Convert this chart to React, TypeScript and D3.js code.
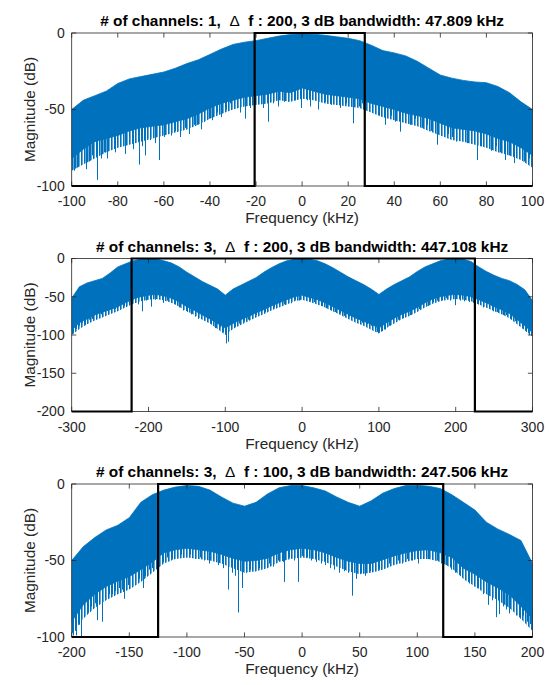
import React from 'react'
import * as d3 from 'd3'

const BLUE = '#0072BD'
const FONT = '"Liberation Sans", Arial, Helvetica, sans-serif'

// ---- panel titles
const channels = [1, 3, 3]
const deltaF = [200, 200, 100]
const bandwidth = ['47.809', '447.108', '247.506']

// ---- panel 1 (1 channel, span +-100 kHz)
const freq1 = [-100, -95, -90, -85, -80, -75, -70, -65, -60, -55, -50, -45, -40, -35, -30, -25, -20, -15, -10, -5, 0, 5, 10, 15, 20, 25, 30, 35, 40, 45, 50, 55, 60, 65, 70, 75, 80, 85, 90, 95, 100]
const upper1 = [-50, -44, -41, -38, -33, -30, -28.5, -27, -25.5, -23, -20, -17.5, -14, -10.5, -7.5, -6, -5, -3.5, -2, -1, -0.5, -0.8, -1.5, -2.5, -3.5, -5, -8, -11.5, -13, -15, -18.5, -23, -27.5, -29.5, -31, -32, -32.5, -35, -39, -45, -50]
const lower1 = [-82, -76, -71, -69, -67, -64, -62, -61, -60, -58, -56, -53, -49, -46, -44, -42, -41, -40, -38, -39, -36, -38, -40, -41, -42, -43, -46, -48, -50, -52.5, -54, -56, -59, -62, -63, -64, -66, -69, -71, -75, -80]
const fringe1 = [-90, -86, -82, -78, -75, -73, -71, -69, -67, -65, -63, -60, -56, -53, -50, -48, -47, -46, -44, -45, -43, -44, -46, -47, -48, -49, -52, -55, -57, -59, -61, -64, -67, -70, -71, -73, -75, -78, -80, -83, -88]
const spikes1: [number, number][] = [
  [-99, -90], [-97.5, -88], [-96, -85], [-94, -89], [-92.5, -84], [-91, -80], [-89, -96], [-87.5, -82], [-86, -78], [-84.5, -82],
  [-83, -76], [-81, -78], [-79, -74], [-77, -79], [-75, -72], [-73.5, -76], [-71, -86], [-69.5, -74], [-68, -80], [-66, -70],
  [-64, -72], [-62, -83], [-60, -68], [-58, -66], [-57, -67], [-55, -64], [-53, -68], [-51, -62], [-49, -66], [-47, -60],
  [-45.5, -60], [-44, -63], [-42.5, -58], [-40.5, -56], [-39, -57], [-37, -52], [-35, -55], [-33, -50], [-31.5, -46], [-29.5, -48],
  [-27, -52], [-25, -56], [-22.5, -49], [-21, -50], [-17, -49], [-15, -58], [-12.5, -46], [-10.5, -48], [-8, -45], [-6, -45],
  [-3, -44], [-0.5, -49], [2, -44], [3.5, -48], [5.5, -44], [7, -50], [10, -45], [12.5, -47], [14.5, -44], [16.5, -49],
  [19, -46], [22.3, -59], [24.5, -48], [26, -46], [29, -48], [31.5, -50], [33.5, -54], [36, -60], [38.5, -54], [40.5, -58],
  [42.6, -64.5], [44.5, -57], [47, -60], [49, -56], [51.9, -62], [54, -60], [56, -64], [58.4, -73], [60.5, -66], [63.4, -66],
  [65, -68], [67, -71], [69.5, -68], [71.5, -72], [73.5, -70], [75.7, -83], [77.5, -74], [80, -73], [82.2, -77], [84, -74],
  [86, -78], [88, -83], [90, -80], [92, -85], [94, -80], [96.5, -84], [98.5, -82],
]
const maskF1 = [-100, -20.6, -20.6, 27.2, 27.2, 100]
const maskDb1 = [-100, -100, 0, 0, -100, -100]

// ---- panel 2 (3 channels, 200 kHz spacing)
const freq2 = [-300, -290, -280, -270, -260, -250, -240, -230, -220, -210, -200, -190, -180, -170, -160, -150, -140, -130, -120, -110, -100, -90, -80, -70, -60, -50, -40, -30, -20, -10, 0, 10, 20, 30, 40, 50, 60, 70, 80, 90, 100, 110, 120, 130, 140, 150, 160, 170, 180, 190, 200, 210, 220, 230, 240, 250, 260, 270, 280, 290, 300]
const upper2 = [-52, -37, -32, -29, -26, -19, -11, -7, -3, -1, -0.5, -0.8, -3, -6, -11, -18, -24, -30, -35, -40, -48, -40, -35, -30, -25, -18, -12, -7, -3, -1, -0.5, -1, -3, -7, -12, -18, -24, -29, -34, -40, -47, -40, -34, -29, -24, -17, -11, -7, -3, -1, -0.5, -1, -4, -11, -17, -22, -26, -29, -34, -41, -55]
const lower2 = [-94, -84, -79, -74, -70, -67, -63, -58, -53, -50, -48, -47, -49, -52, -57, -63, -68, -74, -79, -85, -91, -85, -80, -76, -71, -67, -62, -58, -54, -50, -48, -51, -54, -58, -63, -68, -73, -78, -82, -86, -91, -84, -78, -73, -69, -64, -58, -53, -50, -48, -47, -48, -50, -54, -58, -63, -67, -72, -80, -88, -97]
const fringe2 = [-100, -92, -86, -81, -77, -73, -69, -64, -59, -56, -54, -53, -55, -58, -63, -69, -74, -80, -85, -92, -100, -92, -87, -82, -77, -73, -68, -64, -60, -56, -54, -57, -60, -64, -69, -74, -79, -84, -88, -93, -98, -91, -85, -79, -75, -70, -64, -59, -56, -54, -53, -54, -56, -60, -64, -69, -73, -78, -86, -94, -102]
const spikes2: [number, number][] = [
  [-298, -98], [-294, -92], [-290, -88], [-286, -84], [-282.7, -87], [-278, -80], [-273, -79], [-268, -76], [-262, -73], [-257, -70],
  [-249, -66], [-244, -66], [-238, -62], [-232, -62], [-226, -58], [-220, -54], [-214, -60], [-208, -69], [-203, -55], [-196.5, -63],
  [-191, -54], [-186, -53], [-181, -58], [-176, -55], [-171, -58], [-166, -60], [-160, -64], [-155, -68], [-150, -70], [-145, -73],
  [-140, -76], [-135, -79], [-128, -80], [-124, -82], [-118, -86], [-113, -91], [-107, -90], [-103, -96], [-99, -111], [-96.5, -109],
  [-92, -92], [-87, -89], [-82, -85], [-76, -82], [-71, -80], [-65, -76], [-60, -74], [-54, -71], [-48, -70], [-42, -66],
  [-36, -64], [-30, -62], [-24, -60], [-19, -57], [-14.5, -58.5], [-9, -54], [-4, -55], [1, -52], [5, -53], [10, -56],
  [15, -57], [21, -60], [26, -62], [31, -65], [37, -68], [43, -70], [49, -72], [55, -75], [61.7, -76], [67, -78],
  [72, -81], [78, -84], [85, -86], [90, -88], [95, -93], [97, -96], [100, -97], [104, -95], [108, -93], [113, -88],
  [119, -84], [125, -80], [131, -78], [134, -74], [140, -74], [146, -70], [152, -66], [158, -64], [164, -62], [170, -57],
  [176, -55], [182, -54], [188, -52], [193, -55], [199.5, -61], [205, -55], [211, -56], [217, -57], [223, -58], [229, -60],
  [235, -64], [240, -64], [244, -66], [248.6, -69], [254, -70], [261.6, -74], [266, -74], [272, -80], [277, -82], [282, -88],
  [287, -92], [292, -96], [296, -100],
]
const maskF2 = [-300, -222, -222, 225, 225, 300]
const maskDb2 = [-200, -200, 0, 0, -200, -200]

// ---- panel 3 (3 channels, 100 kHz spacing)
const freq3 = [-200, -190, -180, -170, -160, -150, -140, -130, -120, -110, -100, -90, -80, -70, -60, -50, -40, -30, -20, -10, 0, 10, 20, 30, 40, 50, 60, 70, 80, 90, 100, 110, 120, 130, 140, 150, 160, 170, 180, 190, 200]
const upper3 = [-50, -41, -35, -30, -27, -22, -12, -7, -4, -2, -1, -1.5, -4, -8.5, -12.5, -14.5, -12, -6.5, -2.5, -1, -1, -2.5, -4.5, -8.5, -12, -14.5, -11, -6, -3, -1, -0.8, -1.5, -3, -7, -12, -17, -25, -29.5, -33, -37, -52]
const lower3 = [-90, -79, -72, -67, -63.5, -60.5, -56, -51, -45, -43, -42, -43, -44, -46, -48.5, -50.5, -50, -48.5, -45, -43, -42, -43, -45, -48, -50.5, -52, -52, -49.5, -47, -45, -43.5, -43, -45, -48, -55, -59, -64, -68, -72.5, -80, -88]
const fringe3 = [-98, -88, -81, -76, -72, -69, -64, -58, -52, -49, -48, -49, -50, -52, -55, -58, -57, -55, -51, -49, -48, -49, -51, -54, -57, -59, -58, -56, -53, -51, -49, -49, -51, -55, -62, -67, -72, -76, -81, -88, -96]
const spikes3: [number, number][] = [
  [-199, -99], [-197.5, -96], [-196.4, -99], [-194, -92], [-191.6, -100], [-189, -86], [-186, -84], [-183, -80], [-180, -78], [-178.4, -89],
  [-176, -76], [-174, -90], [-171, -74], [-168, -72], [-165, -72], [-162, -70], [-159, -68], [-156, -69], [-154.2, -75], [-151, -66],
  [-148, -65], [-145, -63], [-142, -62], [-138.3, -68], [-136, -60], [-133, -56], [-130, -55], [-127, -52], [-124, -50], [-121, -51],
  [-117, -48], [-113, -49], [-109, -47], [-105, -46], [-101, -48], [-97, -46], [-93, -49], [-89, -48], [-85, -50], [-81.1, -52],
  [-77, -50], [-73, -53], [-69, -55], [-64.5, -69], [-61, -58], [-58, -60], [-55.5, -84], [-52.5, -68], [-49, -58], [-45, -56],
  [-41, -57], [-37, -55], [-33, -54], [-29, -52], [-25, -54], [-21, -50], [-17, -51], [-15.4, -64], [-11, -48], [-7, -50],
  [-3.9, -64], [0, -47], [4, -48], [8, -50], [12, -51], [16, -52], [20, -53], [24, -55], [28, -56], [32, -58],
  [36, -57], [40, -58], [43.7, -73], [47, -62], [51, -58], [55, -60], [59, -57], [63, -55], [67, -56], [71, -54],
  [75, -52], [79, -51], [83, -50], [87, -52], [91, -49], [95, -50], [100.9, -52], [105, -48], [109, -49], [113, -48],
  [117, -50], [121, -52], [125, -53], [129, -56], [133, -58], [137, -60], [141, -63], [145, -65], [149, -67], [153, -68],
  [157, -72], [161.7, -79], [165, -76], [168.7, -87], [171, -85], [174, -80], [177, -82], [180, -84.6], [183, -82], [186, -86],
  [189, -88], [192, -86], [195, -90], [198, -91.5], [199.5, -97],
]
const maskF3 = [-200, -125, -125, 122.5, 122.5, 200]
const maskDb3 = [-100, -100, 0, 0, -100, -100]

// ---- axes ticks
const xTicks1 = [-100, -80, -60, -40, -20, 0, 20, 40, 60, 80, 100]
const yTicks1 = [-100, -50, 0]
const xTicks2 = [-300, -200, -100, 0, 100, 200, 300]
const yTicks2 = [-200, -150, -100, -50, 0]
const xTicks3 = [-200, -150, -100, -50, 0, 50, 100, 150, 200]
const yTicks3 = [-100, -50, 0]

const W = 549
const H = 685
const LEFT = 71.7
const RIGHT = 532.5
const PH = 153
const TOPS = [33, 258.5, 484]
const TICK = 4.6

function Panel(props) {
  const { idx, top, freq, upper, lower, fringe, spikes, maskF, maskDb, xTicks, yTicks } = props
  const bottom = top + PH
  const x = d3.scaleLinear().domain([xTicks[0], xTicks[xTicks.length - 1]]).range([LEFT, RIGHT])
  const y = d3.scaleLinear().domain([yTicks[0], 0]).range([bottom, top])
  // floor of the dense band, where each downward spike starts
  const floor = d3.scaleLinear().domain(freq).range(lower)

  const band = d3.area<number>()
    .x((d, i) => x(freq[i]))
    .y0((d, i) => y(lower[i]))
    .y1((d) => y(d))

  const fringeArea = d3.area<number>()
    .x((d, i) => x(freq[i]))
    .y0((d) => y(d))
    .y1((d, i) => y(lower[i]) - 1)

  const mask = d3.line<number>()
    .x((d) => x(d))
    .y((d, i) => y(maskDb[i]))

  const clipId = 'clip' + idx
  const cx = (LEFT + RIGHT) / 2
  const px = (v) => Math.round(v) + 0.5

  return (
    <g>
      <defs>
        <clipPath id={clipId}>
          <rect x={LEFT} y={top} width={RIGHT - LEFT} height={PH} />
        </clipPath>
      </defs>
      <rect x={LEFT} y={top} width={RIGHT - LEFT} height={PH} fill="#fff" />
      <g clipPath={`url(#${clipId})`}>
        <path d={fringeArea(fringe)} fill="url(#comb)" />
        <path d={band(upper)} fill={BLUE} stroke={BLUE} strokeWidth={0.8} />
        {spikes.map(([f, db], i) => (
          <line key={i} x1={px(x(f))} x2={px(x(f))} y1={y(floor(f) + 4)} y2={y(db)} stroke={BLUE} strokeWidth={1} />
        ))}
      </g>
      {/* box */}
      <rect x={LEFT} y={top} width={RIGHT - LEFT} height={PH} fill="none" stroke="#262626" strokeWidth={0.8} />
      {xTicks.map((t) => (
        <g key={'x' + t}>
          <line x1={x(t)} x2={x(t)} y1={bottom} y2={bottom - TICK} stroke="#262626" strokeWidth={0.8} />
          <line x1={x(t)} x2={x(t)} y1={top} y2={top + TICK} stroke="#262626" strokeWidth={0.8} />
          <text x={x(t)} y={bottom + 20} textAnchor="middle" fontSize={14} fill="#262626">{t}</text>
        </g>
      ))}
      {yTicks.map((t) => (
        <g key={'y' + t}>
          <line x1={LEFT} x2={LEFT + TICK} y1={y(t)} y2={y(t)} stroke="#262626" strokeWidth={0.8} />
          <line x1={RIGHT} x2={RIGHT - TICK} y1={y(t)} y2={y(t)} stroke="#262626" strokeWidth={0.8} />
          <text x={LEFT - 7} y={y(t)} dy="0.35em" textAnchor="end" fontSize={14} fill="#262626">{t}</text>
        </g>
      ))}
      <path d={mask(maskF)} fill="none" stroke="#000" strokeWidth={2.2} strokeLinejoin="miter" />
      <text x={cx} y={bottom + 37} textAnchor="middle" fontSize={15.4} fill="#262626">Frequency (kHz)</text>
      <text transform={`translate(35,${top + PH / 2}) rotate(-90)`} textAnchor="middle" fontSize={15.4} fill="#262626">Magnitude (dB)</text>
      <text x={cx} y={top - 7} textAnchor="middle" fontSize={15.4} fontWeight="bold" fill="#000" style={{ whiteSpace: 'pre' }}>
        {`# of channels: ${channels[idx]},  `}
        <tspan fontWeight="normal">Δ</tspan>
        {`  f : ${deltaF[idx]}, 3 dB bandwidth: ${bandwidth[idx]} kHz`}
      </text>
    </g>
  )
}

export default function App() {
  return (
    <svg width={W} height={H} style={{ position: 'absolute', left: 0, top: 0, display: 'block', fontFamily: FONT, background: '#fff' }}>
      <defs>
        <pattern id="comb" width={3} height={6} patternUnits="userSpaceOnUse">
          <rect x={0} y={0} width={1.6} height={6} fill={BLUE} />
        </pattern>
      </defs>
      <rect width={W} height={H} fill="#fff" />
      <Panel idx={0} top={TOPS[0]} freq={freq1} upper={upper1} lower={lower1} fringe={fringe1} spikes={spikes1} maskF={maskF1} maskDb={maskDb1} xTicks={xTicks1} yTicks={yTicks1} />
      <Panel idx={1} top={TOPS[1]} freq={freq2} upper={upper2} lower={lower2} fringe={fringe2} spikes={spikes2} maskF={maskF2} maskDb={maskDb2} xTicks={xTicks2} yTicks={yTicks2} />
      <Panel idx={2} top={TOPS[2]} freq={freq3} upper={upper3} lower={lower3} fringe={fringe3} spikes={spikes3} maskF={maskF3} maskDb={maskDb3} xTicks={xTicks3} yTicks={yTicks3} />
    </svg>
  )
}
